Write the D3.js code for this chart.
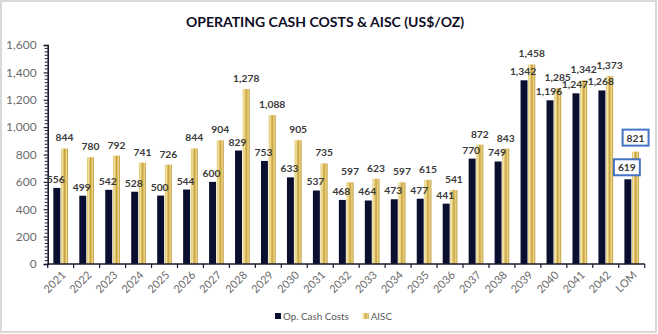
<!DOCTYPE html>
<html>
<head>
<meta charset="utf-8">
<script src="https://cdn.jsdelivr.net/npm/d3@7"></script>
<style>
  html, body { margin: 0; padding: 0; background: #fff; }
  svg { display: block; font-family: Lato, "Open Sans", sans-serif; }
</style>
</head>
<body>
<svg id="chart" width="658" height="334"></svg>
<script>
// ---- data ----
const categories = ["2021","2022","2023","2024","2025","2026","2027","2028","2029","2030","2031",
  "2032","2033","2034","2035","2036","2037","2038","2039","2040","2041","2042","LOM"];
const opCashCosts = [556,499,542,528,500,544,600,829,753,633,537,468,464,473,477,441,770,749,1342,1196,1247,1268,619];
const aisc        = [844,780,792,741,726,844,904,1278,1088,905,735,597,623,597,615,541,872,843,1458,1285,1342,1373,821];
const seriesNames = ["Op. Cash Costs","AISC"];
const yTicks = [0,200,400,600,800,1000,1200,1400,1600];
const titleText = "OPERATING CASH COSTS & AISC (US$/OZ)";
const highlightCategory = "LOM";

(function(){
// ---- layout ----
const W = 658, H = 334;
const mLeft = 47.7, mRight = 644.7, mTop = 45, mBottom = 264;
const svg = d3.select("#chart");

const defs = svg.append("defs");
const grad = defs.append("linearGradient").attr("id","gold").attr("x1","0%").attr("x2","100%").attr("y1","0%").attr("y2","0%");
[[0,"#d9bb55"],[0.18,"#f6e8ab"],[0.5,"#c9a23a"],[0.78,"#edd68c"],[1,"#b8912c"]].forEach(s=>
  grad.append("stop").attr("offset",s[0]).attr("stop-color",s[1]));

// outer frame
svg.append("rect").attr("x",1).attr("y",1).attr("width",W-3).attr("height",H-3)
  .attr("fill","#fff").attr("stroke","#d9d9d9").attr("stroke-width",2);

// title
svg.append("text").attr("x",325).attr("y",27).attr("text-anchor","middle")
  .attr("font-weight","bold").attr("font-size",14).attr("fill","#0d0d26").text(titleText);

const x0 = d3.scaleBand().domain(categories).range([mLeft,mRight]).paddingInner(0.435).paddingOuter(0.2175);
const xAxisBand = d3.scaleBand().domain(categories).range([mLeft,mRight]).padding(0);
const x1 = d3.scaleBand().domain(seriesNames).range([0,x0.bandwidth()]).paddingInner(0.1);
const y = d3.scaleLinear().domain([0,1600]).range([mBottom,mTop]);

// bars
const fills = {"Op. Cash Costs":"#0a0f2f","AISC":"url(#gold)"};
const g = svg.append("g");
categories.forEach((c,i)=>{
  const vals = [opCashCosts[i], aisc[i]];
  seriesNames.forEach((s,j)=>{
    g.append("rect").attr("x",x0(c)+x1(s)).attr("width",x1.bandwidth())
      .attr("y",y(vals[j])).attr("height",y(0)-y(vals[j])).attr("fill",fills[s]);
  });
});

// y axis
const yAxis = d3.axisLeft(y).tickValues(yTicks).tickFormat(d3.format(",")).tickSize(4).tickPadding(7);
const ya = svg.append("g").attr("transform",`translate(${mLeft},0)`).call(yAxis);
ya.select(".domain").attr("stroke","#1a1a2e").attr("stroke-width",1.6);
ya.selectAll(".tick line").attr("stroke","#1a1a2e").attr("stroke-width",1.2);
ya.selectAll(".tick text").attr("font-size",12).attr("fill","#6b6b6b").attr("font-family","Lato, sans-serif");
// minor ticks
const minor = d3.range(0,1601,25).filter(v=>v%200!==0);
svg.append("g").selectAll("line").data(minor).join("line")
  .attr("x1",mLeft-3).attr("x2",mLeft).attr("y1",d=>y(d)).attr("y2",d=>y(d))
  .attr("stroke","#1a1a2e").attr("stroke-width",1);

// x axis
const xa = svg.append("g");
xa.append("line").attr("x1",mLeft).attr("x2",mRight).attr("y1",mBottom).attr("y2",mBottom)
  .attr("stroke","#1a1a2e").attr("stroke-width",1.6);
const tickPos = categories.map(c=>xAxisBand(c)).concat([mRight]);
xa.selectAll("line.t").data(tickPos).join("line").attr("class","t")
  .attr("x1",d=>d).attr("x2",d=>d).attr("y1",mBottom).attr("y2",mBottom+4)
  .attr("stroke","#1a1a2e").attr("stroke-width",1.2);
xa.selectAll("text").data(categories).join("text")
  .attr("transform",d=>`translate(${xAxisBand(d)+xAxisBand.bandwidth()/2+3},${mBottom+9}) rotate(-45)`)
  .attr("text-anchor","end").attr("dy","0.35em")
  .attr("font-size",11).attr("fill","#6b6b6b").text(d=>d);

// data labels
const fmt = d3.format(",");
const labelOffsets = {"Op. Cash Costs":5,"AISC":7};
const lg = svg.append("g");
categories.forEach((c,i)=>{
  const vals = [opCashCosts[i], aisc[i]];
  seriesNames.forEach((s,j)=>{
    const hl = c===highlightCategory;
    const t = lg.append("text")
      .attr("x",x0(c)+x1(s)+x1.bandwidth()/2 - (j===0?1:0))
      .attr("y",y(vals[j]) - labelOffsets[s] - (hl?3:0))
      .attr("text-anchor","middle").attr("font-weight","bold").attr("font-size",10.3)
      .attr("fill","#3a3a3a").text(fmt(vals[j]));
    if (hl) {
      const b = t.node().getBBox();
      lg.insert("rect","text").attr("x",b.x-4).attr("y",b.y-2).attr("width",b.width+8).attr("height",b.height+4)
        .attr("fill","#fff").attr("stroke","#4472c4").attr("stroke-width",2);
    }
  });
});

// legend
const leg = svg.append("g").attr("transform","translate(275,317)");
let lx = 0;
seriesNames.forEach((s,j)=>{
  const it = leg.append("g").attr("transform",`translate(${lx},0)`);
  it.append("rect").attr("x",0).attr("y",-4).attr("width",6).attr("height",6).attr("fill",fills[s]);
  const t = it.append("text").attr("x",8).attr("y",0).attr("dy","0.35em")
    .attr("font-size",9.8).attr("fill","#595959").text(s);
  lx += 8 + t.node().getComputedTextLength() + 14;
});
})();
</script>
</body>
</html>
